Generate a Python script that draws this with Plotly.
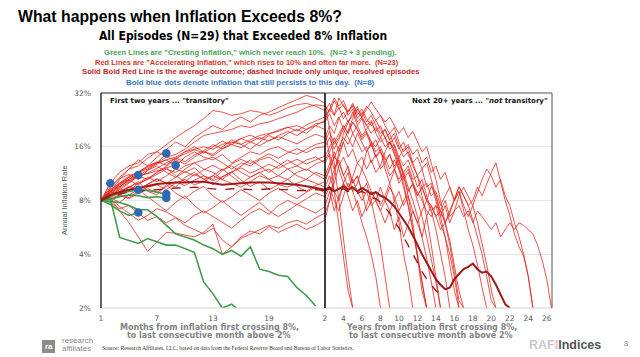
import math
import plotly.graph_objects as go

# ---------------- data ----------------
MONTHS = list(range(1, 26))
YEAR_START = 2
YEAR_STEP = 0.5

# resolved red episodes: first two years (monthly) + later years (half-year steps)
red_left = {
    "R1": [8, 9.5, 10.8, 12.0, 12.5, 13.8, 15.0, 16.5, 18.0, 19.5, 21.0, 23.0, 25.5, 25.0, 24.0, 24.5, 25.5, 25.0, 24.0, 25.0, 26.5, 27.5, 28.0, 27.0, 25.5],
    "R2": [8, 9.0, 10.0, 10.5, 11.5, 12.5, 13.0, 14.0, 14.5, 15.5, 17.0, 18.5, 19.0, 19.5, 20.0, 21.0, 20.5, 21.5, 22.0, 23.0, 24.0, 25.0, 26.5, 27.5, 27.0],
    "R3": [8, 8.8, 9.5, 10.5, 11.0, 11.8, 12.8, 13.5, 14.0, 15.0, 15.5, 16.0, 15.5, 16.5, 17.0, 16.5, 17.5, 18.5, 19.0, 19.5, 20.5, 21.0, 20.0, 21.5, 22.0],
    "R4": [8, 9.2, 10.0, 11.0, 11.5, 12.0, 13.0, 13.5, 12.5, 14.0, 15.0, 14.0, 13.5, 14.5, 13.0, 14.0, 15.0, 14.5, 15.5, 16.0, 15.0, 14.5, 15.5, 16.5, 17.0],
    "R5": [8, 8.5, 9.0, 9.5, 10.0, 10.5, 11.2, 12.0, 11.5, 12.5, 13.0, 13.5, 14.0, 13.0, 12.0, 13.0, 12.5, 13.5, 14.0, 13.0, 12.0, 12.5, 13.5, 14.0, 13.0],
    "R6": [8, 8.4, 9.3, 9.0, 10.0, 10.8, 10.2, 11.0, 12.0, 11.5, 12.2, 11.0, 10.5, 11.8, 12.5, 11.5, 10.8, 11.5, 12.0, 11.0, 10.5, 11.5, 12.0, 11.2, 10.5],
    "R7": [8, 8.2, 8.6, 8.3, 9.0, 9.5, 9.8, 9.2, 10.0, 10.5, 9.8, 10.2, 11.0, 10.5, 10.0, 9.5, 10.2, 11.0, 10.5, 9.8, 9.5, 10.0, 10.5, 10.0, 9.5],
    "R8": [8, 8.6, 9.0, 9.6, 9.2, 9.8, 10.5, 10.0, 9.5, 10.8, 11.5, 10.5, 11.0, 12.0, 11.0, 10.0, 10.8, 11.5, 10.5, 11.0, 12.0, 11.0, 10.5, 11.5, 11.0],
    "R9": [8, 8.2, 7.0, 6.0, 5.0, 4.15, 4.7, 5.3, 5.25, 5.1, 5.0, 5.3, 5.9, 4.0, 4.4, 4.9, 5.2, 5.5, 5.8, 5.6, 6.0, 6.2, 5.9, 6.4, 6.8],
    "R10": [8, 7.8, 7.2, 7.5, 6.8, 6.2, 6.5, 6.0, 6.4, 5.8, 5.5, 5.2, 5.6, 4.8, 4.4, 5.0, 5.4, 5.2, 5.7, 5.3, 5.6, 5.9, 5.5, 5.8, 6.2],
    "R11": [8, 9.0, 8.5, 9.5, 10.2, 9.0, 8.6, 9.8, 8.8, 8.2, 9.0, 9.6, 8.5, 7.8, 8.4, 9.2, 8.6, 8.0, 8.8, 9.4, 8.7, 8.2, 8.9, 9.5, 8.8],
    "R12": [8, 8.3, 7.8, 8.6, 9.2, 8.4, 7.6, 7.0, 7.8, 8.5, 7.5, 6.8, 7.3, 8.0, 7.2, 6.6, 7.2, 7.8, 7.0, 6.5, 7.0, 7.6, 7.2, 6.8, 7.4],
    "R13": [8, 10.0, 11.5, 12.5, 13.0, 14.5, 15.0, 14.0, 13.5, 15.0, 16.0, 15.0, 14.5, 16.0, 17.5, 16.5, 15.5, 17.0, 18.5, 17.5, 19.0, 20.0, 19.0, 21.0, 22.5],
    "R14": [8, 9.4, 10.6, 11.2, 10.5, 11.8, 12.5, 11.5, 10.8, 12.0, 13.0, 12.0, 11.5, 10.5, 11.5, 12.5, 13.5, 12.5, 11.5, 12.5, 13.5, 12.5, 11.8, 12.8, 13.5],
    "R15": [8, 8.2, 7.4, 6.8, 6.2, 6.6, 7.2, 6.9, 6.4, 6.0, 6.6, 7.0, 6.5, 6.0, 5.6, 6.2, 6.8, 7.2, 6.7, 7.5, 8.0, 7.6, 8.2, 8.8, 8.4],
    "R16": [8, 8.7, 9.6, 10.4, 9.8, 10.6, 11.5, 12.2, 11.0, 10.2, 11.2, 10.6, 9.8, 10.8, 11.6, 10.4, 9.6, 10.2, 9.2, 9.8, 10.5, 9.6, 9.0, 9.7, 10.2],
    "R17": [8, 9.0, 10.5, 12.0, 13.5, 12.5, 14.0, 15.5, 17.0, 16.0, 18.0, 19.5, 21.0, 20.0, 22.0, 23.5, 22.0, 24.0, 25.0, 26.5, 28.0, 29.5, 31.0, 30.0, 28.0],
    "R18": [8, 8.5, 9.2, 10.0, 11.0, 10.5, 11.5, 12.5, 13.5, 12.8, 14.0, 15.0, 14.2, 15.5, 16.5, 15.8, 17.0, 18.0, 17.2, 18.5, 19.5, 18.5, 20.0, 21.0, 20.0],
    "R19": [8, 8.9, 9.8, 10.8, 11.6, 12.4, 13.2, 12.6, 13.8, 14.6, 15.4, 14.8, 16.0, 17.2, 16.4, 17.8, 18.6, 17.6, 18.8, 19.8, 20.6, 19.6, 21.2, 22.4, 23.5],
    "R20": [8, 8.6, 9.4, 10.1, 10.9, 11.4, 12.1, 13.0, 13.8, 13.2, 14.4, 15.2, 16.4, 15.6, 16.8, 17.8, 17.0, 16.2, 17.4, 18.2, 17.4, 16.6, 17.8, 18.8, 18.0],
    "R21": [8, 8.4, 8.9, 9.5, 9.1, 9.9, 10.6, 10.0, 10.8, 11.6, 11.0, 11.9, 12.6, 11.8, 12.8, 13.6, 12.9, 13.8, 14.6, 13.8, 14.8, 15.6, 14.8, 15.8, 16.0],
    "R22": [8, 8.1, 8.5, 8.2, 8.8, 9.3, 8.9, 9.6, 10.2, 9.7, 10.4, 11.0, 10.3, 10.9, 11.6, 12.2, 11.4, 12.0, 12.8, 12.1, 12.9, 13.6, 12.8, 13.5, 14.2],
}

red_right = {
    "R1": [25.5, 28, 24, 26.5, 23, 25, 27.5, 25, 23.5, 26, 28.5, 26, 24, 22, 23.5, 21, 19, 20.5, 18, 19.5, 17, 15, 16, 13, 10.5, 8, 6, 4.5, 3.2, 2.2, 2.0],
    "R2": [27, 25, 29, 26, 27.5, 24, 26, 22, 23.5, 21, 19, 20.5, 18, 16, 17, 14.5, 12, 9.5, 7.5, 5.5, 4, 2.8, 2.0],
    "R3": [22, 24.5, 21, 23.5, 20, 22.5, 19, 21, 18.5, 20, 22, 19.5, 21, 18, 16.5, 18, 15.5, 17, 14.5, 13, 14, 12, 13, 10.5, 8.5, 6.5, 5, 3.5, 2.5, 2],
    "R4": [17, 19.5, 16.5, 18, 21, 19, 22, 20, 17.5, 19, 16, 17.5, 15, 13.5, 14.5, 12, 10.5, 11.5, 9.5, 8, 6.5, 5, 3.8, 2.8, 2],
    "R5": [13, 14.5, 12, 13.5, 11, 12.5, 10, 11, 9, 10, 8, 9, 7.5, 8.5, 10, 12, 14, 15.5, 16.5, 14.5, 15.5, 13, 14, 11.5, 12.5, 10.5, 11.5, 9.5, 8, 9, 7, 5.5, 4.5, 3.5, 2.6, 2],
    "R6": [10.5, 12, 14, 13, 11, 9.5, 10.5, 9, 8, 9, 7.5, 8, 7, 8, 9.5, 8.5, 7, 8, 9, 10, 9, 8, 7, 6.5, 7.5, 7, 6, 6.8, 8, 9.6, 8.5, 7.5, 6.2, 5, 4, 3, 2.2, 2],
    "R7": [9.5, 11, 9, 8, 10, 8.5, 7, 8, 6.5, 7.5, 9, 8, 7, 6, 7, 5.5, 6.5, 5, 6, 7, 6, 5, 6.5, 7.5, 6.5, 5.5, 6, 7, 8, 9.5, 8.5, 7.5, 8, 9.5, 8.5, 10, 11.5, 13, 10.3, 8, 6.6, 5.2, 4.4, 3.9, 3, 2],
    "R8": [11, 13, 15, 12, 10, 11.5, 9, 10, 12, 10.5, 9, 8, 9.5, 8, 7, 8, 9, 7.5, 8.5, 7, 6, 7, 8, 7.5, 6.5, 7, 8, 6.5, 7, 7.5, 6.5, 7, 6, 7, 6.5, 6, 5.5, 6, 5, 5.5, 6, 5.5, 6, 5.8, 5.5, 5.2, 4.5, 3.7, 2.9, 2.0],
    "R9": [6.8, 8, 10, 12.5, 14, 12, 10, 11, 9, 7, 8, 6, 4.5, 3, 2],
    "R10": [6.2, 8, 11, 15, 19, 22, 25, 21, 23, 19, 17, 14, 15.5, 12, 10, 8, 6, 4, 3, 2],
    "R11": [8.8, 10, 12, 14, 17, 20, 23, 26, 24, 27, 25, 22.5, 24, 21, 19, 20.5, 17, 15, 16, 13, 11, 8.5, 6.5, 4.5, 3, 2],
    "R12": [7.4, 9, 7, 8.5, 10, 9, 11, 13, 12, 15, 17, 16, 18, 20, 17.5, 19, 16, 14, 15, 12.5, 11, 12, 9.5, 10, 8, 6.5, 7.5, 6, 7, 8.5, 9.5, 8.5, 7.5, 6, 4.5, 3.5, 2.5, 2],
    "R13": [22.5, 26, 24, 30, 27, 25, 28, 24, 26, 23, 21, 22.5, 20, 18, 19, 16, 13.5, 11, 8.5, 6, 4, 2.5, 2],
    "R14": [13.5, 15, 17, 19, 21, 19, 22, 20, 18, 19.5, 17, 15, 16, 14, 12, 13.5, 12, 10.5, 11.5, 10, 8.5, 9.5, 8, 7, 7.5, 6, 5, 4, 3, 2],
    "R15": [8.4, 9.5, 8, 7, 8.5, 10, 9, 7.5, 6, 5, 4, 3, 2],
    "R16": [10.2, 12, 14, 16, 18, 16.5, 19, 17, 15, 16, 13, 14.5, 12, 13, 11, 12, 10, 11, 9, 9.8, 8, 6.5, 5, 3.8, 2.8, 2],
    "R17": [28, 20, 13, 8, 5, 3, 2],
    "R18": [20, 14, 9, 6, 4, 2.5, 2],
    "R19": [23.5, 26, 30, 27, 29, 25, 27, 23, 25, 22, 24, 21, 19, 20, 17.5, 15, 12.5, 10, 7.5, 5.5, 4, 2.8, 2],
    "R20": [18, 21, 19, 23, 25, 22, 24, 27, 23, 21, 22.5, 19, 17, 18, 15.5, 16.5, 14, 12.5, 13.5, 11.5, 9.5, 10.5, 8.5, 7, 5.5, 4, 3, 2],
    "R21": [16, 18, 15.5, 17.5, 20, 18, 16, 19, 17, 15, 16.5, 14, 15, 13, 14.5, 12.5, 13.5, 11.5, 12.5, 10.5, 11, 9.5, 10, 8.5, 9, 7.5, 8.5, 9.5, 8, 9, 7.5, 6.5, 7.5, 9, 10.5, 12, 11, 9.5, 10.5, 8.5, 7.5, 6, 5, 4, 3, 2],
    "R22": [14.2, 16, 18, 15, 17, 14, 15.5, 13, 14, 12, 13.5, 11.5, 12.5, 15, 17, 15.5, 13, 11, 12, 10, 8.5, 9.5, 8, 9.6, 8.5, 7, 6, 4.8, 3.5, 2.5, 2],
}

# pending episodes (still persisting) - end with a blue dot
red_pending = [
    [8, 10.0],
    [8, 9.0, 9.8, 10.5, 11.1],
    [8, 8.5, 8.9, 9.1, 9.2],
    [8, 9.2, 10.0, 10.8, 11.5, 12.2, 13.0, 14.7],
    [8, 9.0, 9.6, 10.3, 11.0, 11.3, 11.8, 12.2, 12.6],
]
green_pending = [
    [8, 7.6, 7.0, 6.6, 6.85],
    [8, 8.4, 8.8, 9.0, 9.2, 9.1, 8.9, 8.7],
    [8, 8.1, 8.4, 8.6, 8.5, 8.3, 8.4, 8.25],
]
# cresting (resolved) green episodes
green_resolved = [
    [8, 8.2, 4.97, 4.8, 4.6, 4.9, 4.7, 4.5, 4.5, 4.3, 4.1, 2.8, 2.4, 2.0, 2.1, 1.9],
    [8, 7.9, 7.8, 7.5, 7.1, 7.1, 6.5, 5.8, 5.2, 5.0, 4.8, 4.5, 4.3, 4.0, 4.2, 3.9, 4.4, 3.3, 3.2, 3.05, 3.0, 2.6, 2.35, 2.05],
]

# averages
avg_left = [8, 8.6, 8.9, 9.2, 9.4, 9.6, 9.9, 10.0, 10.1, 10.1, 10.2, 10.2, 10.0, 9.8, 9.9, 10.0, 10.1, 10.1, 10.1, 10.0, 9.9, 9.8, 9.6, 9.4, 9.2]
avg_right = [9.2, 9.5, 9.0, 9.3, 9.6, 9.2, 9.5, 9.0, 9.4, 9.1, 8.7, 8.9, 8.5, 8.3, 7.9, 7.4, 6.8, 6.2, 5.7, 5.1, 4.5, 4.0, 3.6, 3.2, 2.9, 2.7, 2.55, 2.6, 2.9, 3.1, 3.3, 3.4, 3.55, 3.3, 3.15, 3.2, 3.0, 2.7, 2.4, 2.1, 2.0]
dash_left = [8, 8.4, 8.7, 8.9, 9.0, 9.1, 9.2, 9.3, 9.4, 9.4, 9.5, 9.4, 9.3, 9.2, 9.3, 9.3, 9.2, 9.2, 9.3, 9.2, 9.2, 9.1, 9.1, 9.2, 9.1]
dash_right = [9.1, 9.3, 8.9, 9.1, 9.3, 9.0, 9.2, 8.8, 9.0, 8.7, 8.3, 8.2, 7.8, 7.3, 6.8, 6.1, 5.6, 5.0, 4.5, 4.0, 3.6, 3.2, 2.9, 2.7, 2.5, 2.4, 2.3]

# blue dots: (month, inflation %)
dot_month = [2, 5, 5, 8, 9, 8, 8, 5]
dot_value = [10.0, 11.1, 9.2, 14.7, 12.6, 8.7, 8.25, 6.85]

Y_TICKS = [2, 4, 8, 16, 32]
Y_TICKTEXT = ["2%", "4%", "8%", "16%", "32%"]
X_TICKS_LEFT = [1, 7, 13, 19]
X_TICKS_RIGHT = list(range(2, 27, 2))

# ---------------- styling ----------------
RED = "rgba(228,38,30,0.88)"
DARK = "#9e1b1b"
GREEN = "#3f9c4a"
BLUE = "#2f68b3"
W, H = 640, 357
OFF = 8  # page body offset of the rendered figure
# target screen positions of the plot area
SX0, SX1, SY0, SY1 = 101, 552, 93, 308
L, T = SX0 - OFF, SY0 - OFF
R, B = W - (SX1 - OFF), H - (SY1 - OFF)
PW, PH = SX1 - SX0, SY1 - SY0
D = 224 / PW  # split between panels


def px(x):
    return (x - SX0) / PW


def py(y):
    return (SY1 - y) / PH


def years(n):
    return [YEAR_START + YEAR_STEP * i for i in range(n)]


fig = go.Figure()


def line(x, y, axis, color, width, dash="solid"):
    fig.add_trace(go.Scatter(x=x, y=y, mode="lines", xaxis=axis, yaxis="y",
                             line=dict(color=color, width=width, dash=dash),
                             hoverinfo="skip", showlegend=False))


for k, v in red_left.items():
    line(MONTHS[:len(v)], v, "x", RED, 0.9)
for k, v in red_right.items():
    line(years(len(v)), v, "x2", RED, 0.9)
for v in red_pending:
    line(MONTHS[:len(v)], v, "x", RED, 0.9)
for v in green_resolved + green_pending:
    line(MONTHS[:len(v)], v, "x", GREEN, 1.6)

line(MONTHS, dash_left, "x", DARK, 1.4, "dash")
line(years(len(dash_right)), dash_right, "x2", DARK, 1.4, "dash")
line(MONTHS, avg_left, "x", DARK, 2.0)
line(years(len(avg_right)), avg_right, "x2", DARK, 2.0)

fig.add_trace(go.Scatter(x=dot_month, y=dot_value, mode="markers", xaxis="x", yaxis="y",
                         marker=dict(color=BLUE, size=8.5), hoverinfo="skip", showlegend=False))

tickfont = dict(family="DejaVu Sans", size=7.5, color="#5a5a5a")
fig.update_layout(
    width=W, height=H, margin=dict(l=L, r=R, t=T, b=B, pad=0),
    paper_bgcolor="white", plot_bgcolor="white", showlegend=False,
    xaxis=dict(domain=[0, D], range=[1, 25], tickvals=X_TICKS_LEFT, showgrid=False,
               zeroline=False, showline=False, ticks="", tickfont=tickfont, ticklabelstandoff=4),
    xaxis2=dict(domain=[D, 1], range=[2, 2 + 226 / 9.2], tickvals=X_TICKS_RIGHT, showgrid=False,
                zeroline=False, showline=False, ticks="", tickfont=tickfont, anchor="y",
                ticklabelstandoff=4),
    yaxis=dict(type="log", range=[math.log10(2), math.log10(32)], tickvals=Y_TICKS,
               ticktext=Y_TICKTEXT, gridcolor="#e6e6e6", gridwidth=1, zeroline=False,
               showline=False, ticks="", tickfont=tickfont, ticklabelstandoff=9),
)

# frames
shapes = [
    dict(type="line", xref="paper", yref="paper", x0=0, x1=1, y0=0, y1=0, line=dict(color="#d0d0d0", width=1)),
    dict(type="line", xref="paper", yref="paper", x0=0, x1=D, y0=1, y1=1, line=dict(color="#222", width=1.2)),
    dict(type="line", xref="paper", yref="paper", x0=D, x1=1, y0=1, y1=1, line=dict(color="#555", width=1)),
    dict(type="line", xref="paper", yref="paper", x0=0, x1=0, y0=0, y1=1, line=dict(color="#222", width=1.4)),
    dict(type="line", xref="paper", yref="paper", x0=1, x1=1, y0=0, y1=1, line=dict(color="#555", width=1)),
    dict(type="line", xref="paper", yref="paper", x0=D, x1=D, y0=0, y1=1, line=dict(color="#111", width=1.6)),
    # research affiliates icon
    dict(type="rect", xref="paper", yref="paper", x0=px(42), x1=px(55), y0=py(353), y1=py(340),
         fillcolor="#8c8c8c", line=dict(width=0)),
]
fig.update_layout(shapes=shapes)

SANS = "Liberation Sans, Arial"
ann = []


def text(x, y, s, size, color, family=SANS, xanchor="center", bold=False, angle=0):
    if bold:
        s = "<b>" + s + "</b>"
    ann.append(dict(x=px(x), y=py(y), xref="paper", yref="paper", text=s, showarrow=False,
                    xanchor=xanchor, yanchor="middle", textangle=angle,
                    font=dict(family=family, size=size, color=color)))


text(16, 17, "What happens when Inflation Exceeds 8%?", 15.8, "#000", xanchor="left", bold=True)
text(243, 36, "All Episodes (N=29) that Exceeded 8% Inflation", 12, "#000", family="DejaVu Sans Condensed, DejaVu Sans", bold=True)
text(250, 52, "Green Lines are \"Cresting Inflation,\" which never reach 10%.  (N=2 + 3 pending).", 7.7, "#4ea35a", bold=True)
text(247, 62, "Red Lines are \"Accelerating Inflation,\" which rises to 10% and often far more.  (N=23)", 7.5, "#e03228", bold=True)
text(250, 72, "Solid Bold Red Line is the average outcome; dashed Include only unique, resolved episodes", 7.7, "#c0282a", bold=True)
text(250, 82, "Bold blue dots denote inflation that still persists to this day.  (N=8)", 7.9, "#3a78c2", bold=True)

text(108, 101, "First two years ... \"transitory\"", 7, "#111", family="DejaVu Sans", xanchor="left", bold=True)
text(550, 101, "Next 20+ years ... \"<i>not</i> transitory\"", 7, "#111", family="DejaVu Sans", xanchor="right", bold=True)

text(64, 200, "Annual Inflation Rate", 7.5, "#555", angle=-90)

XT = "#828282"
text(209, 327, "Months from inflation first crossing 8%,", 8, XT, family="DejaVu Sans", bold=True)
text(209, 335.5, "to last consecutive month above 2%", 8, XT, family="DejaVu Sans", bold=True)
text(431, 327, "Years from inflation first crossing 8%,", 8, XT, family="DejaVu Sans", bold=True)
text(431, 335.5, "to last consecutive month above 2%", 8, XT, family="DejaVu Sans", bold=True)

text(100, 347.5, "Source: Research Affiliates, LLC, based on data from the Federal Reserve Board and Bureau of Labor Statistics.",
     5.6, "#333", family="Liberation Serif", xanchor="left")

text(48.5, 346.5, "ra", 8, "#fff", family="Liberation Sans", bold=True)
text(60, 340.5, "research", 8, "#8a8a8a", family="Liberation Sans", xanchor="left")
text(60, 348.5, "affiliates", 8, "#8a8a8a", family="Liberation Sans", xanchor="left")

text(527, 344.5, "<span style='color:#c9c9c9'>RAFI</span><span style='color:#555'>Indices</span>", 12.5, "#555",
     family="Liberation Sans", xanchor="left", bold=True)
text(626, 343, "8", 7.5, "#888", family="Liberation Sans")

fig.update_layout(annotations=ann)
fig.write_html("out.html")
